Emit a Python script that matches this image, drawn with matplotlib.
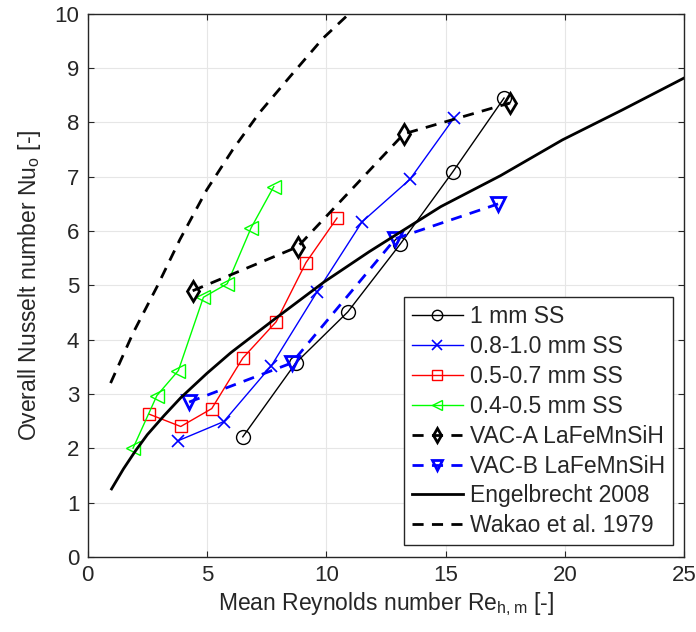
import numpy as np
import matplotlib.pyplot as plt

plt.rcParams['font.family'] = ['Liberation Sans', 'DejaVu Sans']
plt.rcParams['mathtext.default'] = 'regular'
plt.rcParams['text.color'] = '#262626'
plt.rcParams['axes.labelcolor'] = '#262626'
plt.rcParams['xtick.labelcolor'] = '#262626'
plt.rcParams['ytick.labelcolor'] = '#262626'

# 1 mm SS
re_1mm = [6.5, 8.72, 10.9, 13.1, 15.3, 17.45]
nu_1mm = [2.21, 3.57, 4.51, 5.76, 7.09, 8.45]

# 0.8-1.0 mm SS
re_08 = [3.8, 5.7, 7.7, 9.6, 11.5, 13.5, 15.35]
nu_08 = [2.14, 2.49, 3.52, 4.87, 6.17, 6.95, 8.08]

# 0.5-0.7 mm SS
re_05 = [2.56, 3.9, 5.2, 6.5, 7.9, 9.15, 10.45]
nu_05 = [2.63, 2.4, 2.73, 3.66, 4.33, 5.42, 6.24]

# 0.4-0.5 mm SS
re_04 = [1.9, 2.9, 3.8, 4.85, 5.85, 6.85, 7.8]
nu_04 = [2.0, 2.97, 3.43, 4.78, 5.03, 6.06, 6.82]

# VAC-A / VAC-B
re_vaca = [4.4, 8.8, 13.25, 17.7]
nu_vaca = [4.9, 5.71, 7.79, 8.36]
re_vacb = [4.25, 8.55, 12.9, 17.2]
nu_vacb = [2.85, 3.57, 5.86, 6.5]

# correlations
re_eng = [1.0, 1.5, 2.0, 2.5, 3.2, 3.9, 5.0, 6.0, 7.9, 9.9, 11.8, 14.8, 17.3, 19.9, 22.4, 25.0]
nu_eng = [1.25, 1.62, 1.95, 2.25, 2.6, 2.93, 3.38, 3.76, 4.4, 5.06, 5.62, 6.45, 7.02, 7.68, 8.23, 8.82]
re_wak = [0.96, 1.9, 2.9, 3.86, 4.99, 6.08, 7.2, 8.47, 9.86, 10.9]
nu_wak = [3.2, 4.12, 4.97, 5.84, 6.76, 7.5, 8.18, 8.84, 9.55, 9.98]

fig = plt.figure(figsize=(6.96, 6.32), dpi=100)
ax = fig.add_axes([0.126, 0.119, 0.857, 0.859])

ax.plot(re_1mm, nu_1mm, '-o', color='k', lw=1, ms=10, mfc='none', mew=1, label='1 mm SS')
ax.plot(re_08, nu_08, '-x', color='b', lw=1, ms=9, mew=1.2, label='0.8-1.0 mm SS')
ax.plot(re_05, nu_05, '-s', color='r', lw=1, ms=9, mfc='none', mew=1, label='0.5-0.7 mm SS')
ax.plot(re_04, nu_04, '-<', color='#00ff00', lw=1, ms=10, mfc='none', mew=1, label='0.4-0.5 mm SS')
ax.plot(re_vaca, nu_vaca, '--d', color='k', lw=2, ms=10, mfc='none', mew=2, dashes=(4, 3),
        label='VAC-A LaFeMnSiH')
ax.plot(re_vacb, nu_vacb, '--v', color='b', lw=2, ms=10, mfc='none', mew=2, dashes=(4, 3),
        label='VAC-B LaFeMnSiH')
ax.plot(re_eng, nu_eng, '-', color='k', lw=2, label='Engelbrecht 2008')
ax.plot(re_wak, nu_wak, '--', color='k', lw=2, dashes=(4, 3), label='Wakao et al. 1979')

ax.set_xlim(0, 25)
ax.set_ylim(0, 10)
ax.set_xticks(np.arange(0, 26, 5))
ax.set_yticks(np.arange(0, 11, 1))
ax.grid(True, color='#e6e6e6', lw=0.8)
ax.set_axisbelow(True)
ax.tick_params(direction='in', top=True, right=True, labelsize=16, length=4,
               color='#262626', pad=6)
for s in ax.spines.values():
    s.set_color('#262626')
    s.set_linewidth(1)

ax.set_xlabel('Mean Reynolds number Re$_{h,m}$ [-]', fontsize=16.5, labelpad=3)
ax.set_ylabel('Overall Nusselt number Nu$_o$ [-]', fontsize=16.5, labelpad=8)

leg = ax.legend(loc='lower right', fontsize=16.5, fancybox=False, framealpha=1,
                edgecolor='#262626', handlelength=2.2, labelspacing=0.3,
                borderaxespad=0.5, handletextpad=0.3, borderpad=0.35, markerscale=0.75)
leg.get_frame().set_linewidth(1)

plt.savefig('out.png', dpi=100)
